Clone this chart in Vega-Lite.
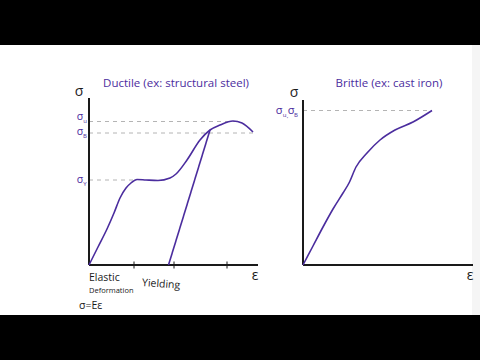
{
  "$schema": "https://vega.github.io/schema/vega-lite/v6.json",
  "background": "black",
  "padding": 0,
  "spacing": 0,
  "config": {
    "view": {"stroke": null},
    "text": {"font": "Open Sans, sans-serif"}
  },
  "datasets": {
    "bgL": [{"strain": -8.9, "strain2": 18.1, "stress": -5.0, "stress2": 22.0}],
    "bgR": [{"strain": -3.3, "strain2": 17.7, "stress": -5.0, "stress2": 22.0}],
    "stripR": [{"strain": 16.9, "strain2": 17.7, "stress": -5.0, "stress2": 22.0}],
    "dashL": [
      {"strain": 0, "strain2": 14.6, "stress": 14.35},
      {"strain": 0, "strain2": 16.8, "stress": 13.2},
      {"strain": 0, "strain2": 4.5, "stress": 8.5}
    ],
    "dashR": [{"strain": 0, "strain2": 12.9, "stress": 15.45}],
    "axL": [
      {"strain": 0, "strain2": 16.9, "stress": 0, "stress2": 0},
      {"strain": 0, "strain2": 0, "stress": 0, "stress2": 16.7}
    ],
    "axR": [
      {"strain": 0, "strain2": 17.0, "stress": 0, "stress2": 0},
      {"strain": 0, "strain2": 0, "stress": 0, "stress2": 16.5}
    ],
    "ticksL": [
      {"strain": 4.5, "stress": -0.35, "stress2": 0.35},
      {"strain": 8.5, "stress": -0.35, "stress2": 0.35},
      {"strain": 13.8, "stress": -0.35, "stress2": 0.35}
    ],
    "ductile": [
      {"curve": "loading", "strain": 0, "stress": 0},
      {"curve": "loading", "strain": 0.9, "stress": 1.8},
      {"curve": "loading", "strain": 1.8, "stress": 3.6},
      {"curve": "loading", "strain": 2.5, "stress": 5.2},
      {"curve": "loading", "strain": 3.1, "stress": 6.7},
      {"curve": "loading", "strain": 3.7, "stress": 7.7},
      {"curve": "loading", "strain": 4.2, "stress": 8.2},
      {"curve": "loading", "strain": 4.8, "stress": 8.55},
      {"curve": "loading", "strain": 5.7, "stress": 8.5},
      {"curve": "loading", "strain": 6.9, "stress": 8.45},
      {"curve": "loading", "strain": 8.1, "stress": 8.7},
      {"curve": "loading", "strain": 8.7, "stress": 9.1},
      {"curve": "loading", "strain": 9.8, "stress": 10.5},
      {"curve": "loading", "strain": 11.1, "stress": 12.5},
      {"curve": "loading", "strain": 12.1, "stress": 13.5},
      {"curve": "loading", "strain": 13.1, "stress": 14.0},
      {"curve": "loading", "strain": 14.4, "stress": 14.4},
      {"curve": "loading", "strain": 15.3, "stress": 14.2},
      {"curve": "loading", "strain": 16.4, "stress": 13.3},
      {"curve": "unloading", "strain": 7.95, "stress": 0},
      {"curve": "unloading", "strain": 12.1, "stress": 13.5}
    ],
    "brittle": [
      {"strain": 0, "stress": 0},
      {"strain": 1.0, "stress": 1.9},
      {"strain": 2.0, "stress": 3.8},
      {"strain": 3.0, "stress": 5.6},
      {"strain": 4.0, "stress": 7.2},
      {"strain": 4.6, "stress": 8.2},
      {"strain": 5.3, "stress": 9.8},
      {"strain": 6.4, "stress": 11.2},
      {"strain": 7.7, "stress": 12.5},
      {"strain": 9.2, "stress": 13.5},
      {"strain": 11.0, "stress": 14.3},
      {"strain": 12.9, "stress": 15.45}
    ],
    "sigL": [
      {"strain": -0.9, "stress": 14.8, "label": "σ"},
      {"strain": -0.9, "stress": 13.3, "label": "σ"},
      {"strain": -0.9, "stress": 8.5, "label": "σ"}
    ],
    "subL": [
      {"strain": -0.4, "stress": 14.4, "label": "u"},
      {"strain": -0.4, "stress": 12.9, "label": "B"},
      {"strain": -0.4, "stress": 8.1, "label": "Y"}
    ],
    "sigR": [
      {"strain": -2.4, "stress": 15.4, "label": "σ"},
      {"strain": -1.2, "stress": 15.4, "label": "σ"}
    ],
    "subR": [
      {"strain": -1.85, "stress": 15.0, "label": "u"},
      {"strain": -1.55, "stress": 14.95, "label": ","},
      {"strain": -0.7, "stress": 15.0, "label": "B"}
    ],
    "blackL": [
      {"strain": -1.0, "stress": 17.3, "label": "σ"},
      {"strain": 16.6, "stress": -1.1, "label": "ε"}
    ],
    "blackR": [
      {"strain": -0.9, "stress": 17.2, "label": "σ"},
      {"strain": 16.7, "stress": -1.1, "label": "ε"}
    ],
    "titleL": [{"strain": 8.7, "stress": 18.1, "label": "Ductile (ex: structural steel)"}],
    "titleR": [{"strain": 8.6, "stress": 18.1, "label": "Brittle (ex: cast iron)"}],
    "notesBig": [
      {"strain": 0, "stress": -1.3, "label": "Elastic"},
      {"strain": -1.0, "stress": -4.1, "label": "σ=Eε"}
    ],
    "notesSmall": [{"strain": 0, "stress": -2.6, "label": "Deformation"}],
    "notesYield": [{"strain": 5.3, "stress": -1.8, "label": "Yielding"}]
  },
  "hconcat": [
    {
      "width": 270,
      "height": 360,
      "encoding": {
        "x": {"field": "strain", "type": "quantitative", "scale": {"domain": [-8.9, 18.1], "nice": false, "zero": false}, "axis": null},
        "y": {"field": "stress", "type": "quantitative", "scale": {"domain": [-9.5, 26.5], "nice": false, "zero": false}, "axis": null}
      },
      "layer": [
        {"data": {"name": "bgL"}, "mark": {"type": "rect", "color": "white"}, "encoding": {"x2": {"field": "strain2"}, "y2": {"field": "stress2"}}},
        {"data": {"name": "dashL"}, "mark": {"type": "rule", "color": "#b4b4b4", "strokeWidth": 1, "strokeDash": [4, 4]}, "encoding": {"x2": {"field": "strain2"}}},
        {"data": {"name": "axL"}, "mark": {"type": "rule", "color": "#1a1a1a", "strokeWidth": 2}, "encoding": {"x2": {"field": "strain2"}, "y2": {"field": "stress2"}}},
        {"data": {"name": "ticksL"}, "mark": {"type": "rule", "color": "#1a1a1a", "strokeWidth": 1}, "encoding": {"y2": {"field": "stress2"}}},
        {"data": {"name": "ductile"}, "mark": {"type": "line", "color": "#4b2d9e", "strokeWidth": 1.6, "interpolate": "monotone"}, "encoding": {"detail": {"field": "curve"}}},
        {"data": {"name": "sigL"}, "mark": {"type": "text", "color": "#4b2d9e", "fontSize": 10.5, "align": "center", "baseline": "middle"}, "encoding": {"text": {"field": "label"}}},
        {"data": {"name": "subL"}, "mark": {"type": "text", "color": "#4b2d9e", "fontSize": 6, "align": "center", "baseline": "middle"}, "encoding": {"text": {"field": "label"}}},
        {"data": {"name": "blackL"}, "mark": {"type": "text", "color": "#1a1a1a", "fontSize": 14, "align": "center", "baseline": "middle"}, "encoding": {"text": {"field": "label"}}},
        {"data": {"name": "titleL"}, "mark": {"type": "text", "color": "#4b2d9e", "fontSize": 11.5, "align": "center", "baseline": "middle"}, "encoding": {"text": {"field": "label"}}},
        {"data": {"name": "notesBig"}, "mark": {"type": "text", "color": "#1a1a1a", "fontSize": 10.5, "align": "left", "baseline": "middle"}, "encoding": {"text": {"field": "label"}}},
        {"data": {"name": "notesSmall"}, "mark": {"type": "text", "color": "#1a1a1a", "fontSize": 7.5, "align": "left", "baseline": "middle"}, "encoding": {"text": {"field": "label"}}},
        {"data": {"name": "notesYield"}, "mark": {"type": "text", "color": "#1a1a1a", "fontSize": 10.5, "align": "left", "baseline": "middle", "angle": 4}, "encoding": {"text": {"field": "label"}}}
      ]
    },
    {
      "width": 210,
      "height": 360,
      "encoding": {
        "x": {"field": "strain", "type": "quantitative", "scale": {"domain": [-3.3, 17.7], "nice": false, "zero": false}, "axis": null},
        "y": {"field": "stress", "type": "quantitative", "scale": {"domain": [-9.5, 26.5], "nice": false, "zero": false}, "axis": null}
      },
      "layer": [
        {"data": {"name": "bgR"}, "mark": {"type": "rect", "color": "white"}, "encoding": {"x2": {"field": "strain2"}, "y2": {"field": "stress2"}}},
        {"data": {"name": "stripR"}, "mark": {"type": "rect", "color": "#f5f5f5"}, "encoding": {"x2": {"field": "strain2"}, "y2": {"field": "stress2"}}},
        {"data": {"name": "dashR"}, "mark": {"type": "rule", "color": "#b4b4b4", "strokeWidth": 1, "strokeDash": [4, 4]}, "encoding": {"x2": {"field": "strain2"}}},
        {"data": {"name": "axR"}, "mark": {"type": "rule", "color": "#1a1a1a", "strokeWidth": 2}, "encoding": {"x2": {"field": "strain2"}, "y2": {"field": "stress2"}}},
        {"data": {"name": "brittle"}, "mark": {"type": "line", "color": "#4b2d9e", "strokeWidth": 1.6, "interpolate": "monotone"}, "encoding": {}},
        {"data": {"name": "sigR"}, "mark": {"type": "text", "color": "#4b2d9e", "fontSize": 11, "align": "center", "baseline": "middle"}, "encoding": {"text": {"field": "label"}}},
        {"data": {"name": "subR"}, "mark": {"type": "text", "color": "#4b2d9e", "fontSize": 6, "align": "center", "baseline": "middle"}, "encoding": {"text": {"field": "label"}}},
        {"data": {"name": "blackR"}, "mark": {"type": "text", "color": "#1a1a1a", "fontSize": 14, "align": "center", "baseline": "middle"}, "encoding": {"text": {"field": "label"}}},
        {"data": {"name": "titleR"}, "mark": {"type": "text", "color": "#4b2d9e", "fontSize": 11.5, "align": "center", "baseline": "middle"}, "encoding": {"text": {"field": "label"}}}
      ]
    }
  ]
}
